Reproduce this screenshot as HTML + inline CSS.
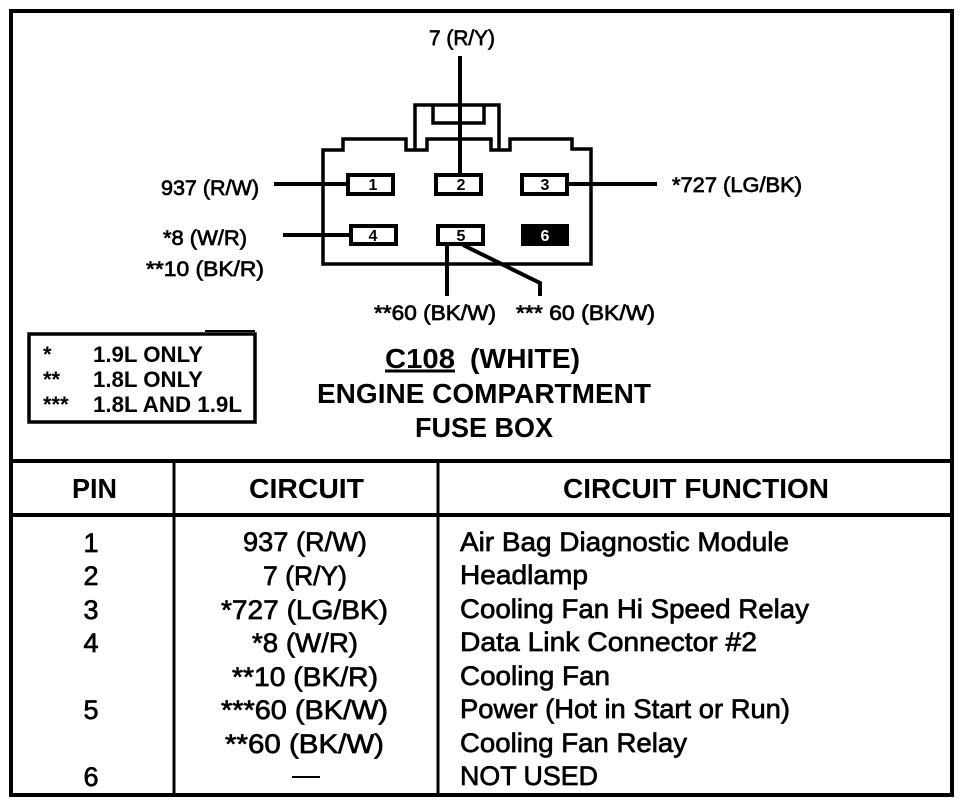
<!DOCTYPE html>
<html><head><meta charset="utf-8"><style>
html,body{margin:0;padding:0;background:#fff}
svg{display:block}
text{font-family:"Liberation Sans",sans-serif;fill:#000}
.r{stroke:#000;stroke-width:.7px}
.b{font-weight:bold}
.l{fill:none;stroke:#000}
</style></head><body>
<svg width="960" height="804" viewBox="0 0 960 804" xmlns="http://www.w3.org/2000/svg">
<rect width="960" height="804" fill="#fff"/>
<rect class="l" stroke-width="4" x="11" y="11" width="941" height="784"/>
<path class="l" stroke-width="4" d="M11 461H952M11 515H952"/>
<path class="l" stroke-width="3" d="M174 461V795M438 461V795"/>

<path class="l" stroke-width="3.5" d="M323 264V150H343V139H406V150H427V139H491V150H510V139H572V149H591V264Z"/>
<path class="l" stroke-width="3.5" d="M415 150V105H499V150M433 105V123H484V105"/>
<path class="l" stroke-width="4" d="M460 56V173M274 184H347M568 184H657M283 235H350M447 245V296M463 245L540 283V296"/>
<rect class="l" stroke-width="4" x="348" y="175" width="45" height="19" style="fill:#fff"/>
<rect class="l" stroke-width="4" x="436" y="175" width="45" height="19" style="fill:#fff"/>
<rect class="l" stroke-width="4" x="522" y="175" width="45" height="19" style="fill:#fff"/>
<rect class="l" stroke-width="4" x="351" y="226" width="45" height="18" style="fill:#fff"/>
<rect class="l" stroke-width="4" x="438" y="226" width="45" height="18" style="fill:#fff"/>
<rect x="521" y="224" width="48" height="22" fill="#000"/>
<g font-size="16" class="b" text-anchor="middle">
<text x="373" y="190">1</text><text x="461" y="190">2</text><text x="545" y="190">3</text>
<text x="373" y="241">4</text><text x="461" y="241">5</text><text x="545" y="241" style="fill:#fff">6</text>
</g>

<g font-size="21" class="r">
<text x="429" y="45" textLength="66" lengthAdjust="spacingAndGlyphs">7 (R/Y)</text>
<text x="161" y="195" textLength="98" lengthAdjust="spacingAndGlyphs">937 (R/W)</text>
<text x="672" y="192" textLength="130" lengthAdjust="spacingAndGlyphs">*727 (LG/BK)</text>
<text x="163" y="245" textLength="84" lengthAdjust="spacingAndGlyphs">*8 (W/R)</text>
<text x="146" y="276" textLength="118" lengthAdjust="spacingAndGlyphs">**10 (BK/R)</text>
<text x="374" y="320" textLength="122" lengthAdjust="spacingAndGlyphs">**60 (BK/W)</text>
<text x="516" y="320" textLength="139" lengthAdjust="spacingAndGlyphs">*** 60 (BK/W)</text>
</g>

<rect class="l" stroke-width="3.5" x="29" y="334" width="226" height="88"/>
<path class="l" stroke-width="2" d="M205 331H255"/>
<g font-size="22" class="b">
<text x="43" y="362">*</text><text x="93" y="362" textLength="110" lengthAdjust="spacingAndGlyphs">1.9L ONLY</text>
<text x="43" y="387">**</text><text x="93" y="387" textLength="110" lengthAdjust="spacingAndGlyphs">1.8L ONLY</text>
<text x="43" y="412">***</text><text x="93" y="412" textLength="149" lengthAdjust="spacingAndGlyphs">1.8L AND 1.9L</text>
</g>

<g font-size="28" class="b">
<text x="385" y="368" textLength="70" lengthAdjust="spacingAndGlyphs">C108</text>
<text x="470" y="368" textLength="110" lengthAdjust="spacingAndGlyphs">(WHITE)</text>
<text x="317" y="403" textLength="334" lengthAdjust="spacingAndGlyphs">ENGINE COMPARTMENT</text>
<text x="415" y="437" textLength="138" lengthAdjust="spacingAndGlyphs">FUSE BOX</text>
</g>
<path class="l" stroke-width="3" d="M385 371H455"/>

<g font-size="28" class="b">
<text x="72" y="498" textLength="45" lengthAdjust="spacingAndGlyphs">PIN</text>
<text x="249" y="498" textLength="115" lengthAdjust="spacingAndGlyphs">CIRCUIT</text>
<text x="563" y="498" textLength="266" lengthAdjust="spacingAndGlyphs">CIRCUIT FUNCTION</text>
</g>

<g font-size="27" class="r" text-anchor="middle">
<text x="91" y="552">1</text><text x="91" y="585">2</text><text x="91" y="619">3</text><text x="91" y="652">4</text>
<text x="91" y="719">5</text><text x="91" y="786">6</text>
</g>
<g font-size="27" class="r">
<text x="243" y="551" textLength="124" lengthAdjust="spacingAndGlyphs">937 (R/W)</text>
<text x="263" y="585" textLength="84" lengthAdjust="spacingAndGlyphs">7 (R/Y)</text>
<text x="221" y="619" textLength="167" lengthAdjust="spacingAndGlyphs">*727 (LG/BK)</text>
<text x="252" y="652" textLength="106" lengthAdjust="spacingAndGlyphs">*8 (W/R)</text>
<text x="232" y="686" textLength="146" lengthAdjust="spacingAndGlyphs">**10 (BK/R)</text>
<text x="221" y="719" textLength="167" lengthAdjust="spacingAndGlyphs">***60 (BK/W)</text>
<text x="225" y="753" textLength="159" lengthAdjust="spacingAndGlyphs">**60 (BK/W)</text>
</g>
<path class="l" stroke-width="2" d="M292 777H320"/>

<g font-size="27" class="r">
<text x="460" y="551" textLength="329" lengthAdjust="spacingAndGlyphs">Air Bag Diagnostic Module</text>
<text x="460" y="584" textLength="128" lengthAdjust="spacingAndGlyphs">Headlamp</text>
<text x="460" y="618" textLength="349" lengthAdjust="spacingAndGlyphs">Cooling Fan Hi Speed Relay</text>
<text x="460" y="651" textLength="297" lengthAdjust="spacingAndGlyphs">Data Link Connector #2</text>
<text x="460" y="685" textLength="150" lengthAdjust="spacingAndGlyphs">Cooling Fan</text>
<text x="460" y="718" textLength="330" lengthAdjust="spacingAndGlyphs">Power (Hot in Start or Run)</text>
<text x="460" y="752" textLength="227" lengthAdjust="spacingAndGlyphs">Cooling Fan Relay</text>
<text x="460" y="785" textLength="138" lengthAdjust="spacingAndGlyphs">NOT USED</text>
</g>
</svg>
</body></html>
